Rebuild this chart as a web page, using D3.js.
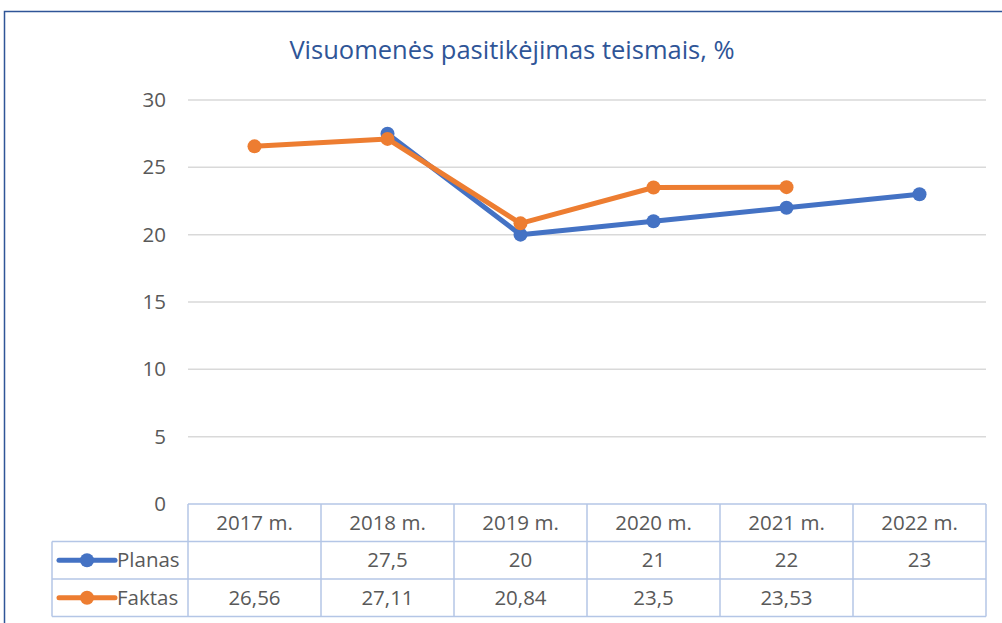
<!DOCTYPE html>
<html>
<head>
<meta charset="utf-8">
<script src="https://cdn.jsdelivr.net/npm/d3@7"></script>
<style>
  body { margin: 0; background: #fff; }
  text { font-family: "Open Sans", sans-serif; }
</style>
</head>
<body>
<div id="chart"></div>
<script>
var categories = ['2017 m.', '2018 m.', '2019 m.', '2020 m.', '2021 m.', '2022 m.'];
var planas = [null, 27.5, 20, 21, 22, 23];
var faktas = [26.56, 27.11, 20.84, 23.5, 23.53, null];
var yTicks = [0, 5, 10, 15, 20, 25, 30];
var title = 'Visuomenės pasitikėjimas teismais, %';

var series = [
  { name: 'Planas', values: planas, color: '#4472C4' },
  { name: 'Faktas', values: faktas, color: '#ED7D31' }
];

var width = 1002;
var height = 623;

var plot = { left: 188, right: 986, top: 100, bottom: 504 };
var rowH = 37.5;
var legendLeft = 52;
var textColor = '#595959';
var tableColor = '#B4C6E6';

var svg = d3.select('#chart')
  .append('svg')
  .attr('width', width)
  .attr('height', height);

// outer chart border
svg.append('rect')
  .attr('x', 4.5)
  .attr('y', 11.5)
  .attr('width', 1100)
  .attr('height', 700)
  .attr('fill', 'none')
  .attr('stroke', '#2F5597')
  .attr('stroke-width', 1.5);

svg.append('text')
  .attr('x', 512)
  .attr('y', 59)
  .attr('text-anchor', 'middle')
  .attr('fill', '#2F5597')
  .style('font-size', '25.5px')
  .text(title);

var x = d3.scaleBand()
  .domain(categories)
  .range([plot.left, plot.right]);

var y = d3.scaleLinear()
  .domain([0, 30])
  .range([plot.bottom, plot.top]);

// gridlines
svg.append('g')
  .selectAll('line')
  .data(yTicks.slice(1))
  .enter()
  .append('line')
  .attr('x1', plot.left)
  .attr('x2', plot.right)
  .attr('y1', function(d) { return y(d); })
  .attr('y2', function(d) { return y(d); })
  .attr('stroke', '#D9D9D9')
  .attr('stroke-width', 1.5);

// y axis labels
var yAxis = svg.append('g')
  .attr('transform', 'translate(' + (plot.left - 22) + ',0)')
  .call(d3.axisLeft(y).tickValues(yTicks).tickSize(0).tickPadding(0));

yAxis.select('.domain').remove();
yAxis.selectAll('text')
  .attr('fill', textColor)
  .style('font-size', '20.5px')
  .style('font-family', '"Open Sans", sans-serif');

// lines and markers
var line = d3.line()
  .defined(function(d) { return d != null; })
  .x(function(d, i) { return x(categories[i]) + x.bandwidth() / 2; })
  .y(function(d) { return y(d); });

series.forEach(function(s) {
  var g = svg.append('g');

  g.append('path')
    .datum(s.values)
    .attr('d', line)
    .attr('fill', 'none')
    .attr('stroke', s.color)
    .attr('stroke-width', 5)
    .attr('stroke-linejoin', 'round');

  g.selectAll('circle')
    .data(s.values.map(function(v, i) { return { v: v, c: categories[i] }; })
      .filter(function(d) { return d.v != null; }))
    .enter()
    .append('circle')
    .attr('cx', function(d) { return x(d.c) + x.bandwidth() / 2; })
    .attr('cy', function(d) { return y(d.v); })
    .attr('r', 7)
    .attr('fill', s.color);
});

// data table
var table = svg.append('g')
  .attr('stroke', tableColor)
  .attr('stroke-width', 1.5)
  .attr('fill', 'none');

var tableTop = plot.bottom;
var tableBottom = tableTop + rowH * 3;

// horizontal lines
table.append('line')
  .attr('x1', plot.left).attr('x2', plot.right)
  .attr('y1', tableTop).attr('y2', tableTop);

[1, 2, 3].forEach(function(r) {
  table.append('line')
    .attr('x1', legendLeft).attr('x2', plot.right)
    .attr('y1', tableTop + rowH * r).attr('y2', tableTop + rowH * r);
});

// vertical lines
table.append('line')
  .attr('x1', legendLeft).attr('x2', legendLeft)
  .attr('y1', tableTop + rowH).attr('y2', tableBottom);

categories.forEach(function(c) {
  table.append('line')
    .attr('x1', x(c)).attr('x2', x(c))
    .attr('y1', tableTop).attr('y2', tableBottom);
});

table.append('line')
  .attr('x1', plot.right).attr('x2', plot.right)
  .attr('y1', tableTop).attr('y2', tableBottom);

// header text
svg.append('g')
  .selectAll('text')
  .data(categories)
  .enter()
  .append('text')
  .attr('x', function(d) { return x(d) + x.bandwidth() / 2; })
  .attr('y', tableTop + rowH / 2)
  .attr('dy', '0.35em')
  .attr('text-anchor', 'middle')
  .attr('fill', textColor)
  .style('font-size', '20.5px')
  .text(function(d) { return d; });

// series rows
series.forEach(function(s, r) {
  var rowY = tableTop + rowH * (r + 1) + rowH / 2;
  var key = svg.append('g');

  key.append('line')
    .attr('x1', 59).attr('x2', 115)
    .attr('y1', rowY).attr('y2', rowY)
    .attr('stroke', s.color)
    .attr('stroke-width', 5)
    .attr('stroke-linecap', 'round');

  key.append('circle')
    .attr('cx', 87)
    .attr('cy', rowY)
    .attr('r', 7)
    .attr('fill', s.color);

  key.append('text')
    .attr('x', 117)
    .attr('y', rowY)
    .attr('dy', '0.35em')
    .attr('fill', textColor)
    .style('font-size', '20.5px')
    .text(s.name);

  svg.append('g')
    .selectAll('text')
    .data(s.values.map(function(v, i) { return { v: v, c: categories[i] }; })
      .filter(function(d) { return d.v != null; }))
    .enter()
    .append('text')
    .attr('x', function(d) { return x(d.c) + x.bandwidth() / 2; })
    .attr('y', rowY)
    .attr('dy', '0.35em')
    .attr('text-anchor', 'middle')
    .attr('fill', textColor)
    .style('font-size', '20.5px')
    .text(function(d) { return String(d.v).replace('.', ','); });
});
</script>
</body>
</html>
